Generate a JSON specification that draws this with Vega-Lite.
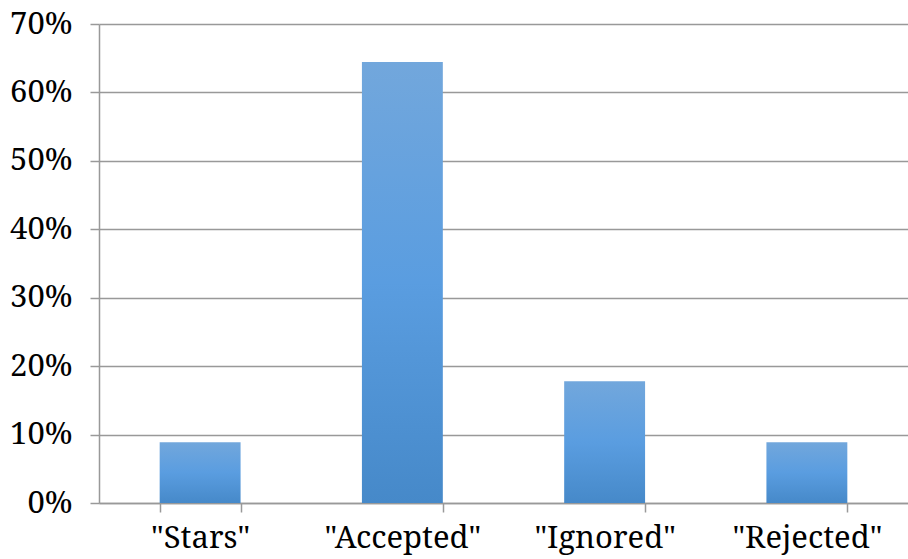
{
  "$schema": "https://vega.github.io/schema/vega-lite/v6.json",
  "autosize": "none",
  "width": 809,
  "height": 479,
  "padding": {"left": 99, "top": 24, "right": 0, "bottom": 56},
  "background": "white",
  "data": {
    "values": [
      {"category": "\"Stars\"", "share": 0.0889},
      {"category": "\"Accepted\"", "share": 0.6444},
      {"category": "\"Ignored\"", "share": 0.1778},
      {"category": "\"Rejected\"", "share": 0.0889}
    ]
  },
  "config": {
    "view": {"stroke": null},
    "font": "Noto Serif"
  },
  "mark": {
    "type": "bar",
    "color": {
      "gradient": "linear",
      "x1": 0, "y1": 0, "x2": 0, "y2": 1,
      "stops": [
        {"offset": 0, "color": "#72a7dc"},
        {"offset": 0.5, "color": "#5a9de0"},
        {"offset": 1, "color": "#4689c9"}
      ]
    }
  },
  "encoding": {
    "x": {
      "field": "category",
      "type": "nominal",
      "sort": null,
      "scale": {"paddingInner": 0.6, "paddingOuter": 0.3},
      "axis": {
        "title": null,
        "labelAngle": 0,
        "labelFont": "Noto Serif",
        "labelFontSize": 31,
        "labelLimit": 0,
        "labelColor": "#000000",
        "labelPadding": 11,
        "ticks": true,
        "tickBand": "extent",
        "tickSize": 9,
        "tickWidth": 1.5,
        "tickColor": "#999999",
        "domainColor": "#999999",
        "domainWidth": 1.5,
        "grid": false
      }
    },
    "y": {
      "field": "share",
      "type": "quantitative",
      "scale": {"domain": [0, 0.7], "nice": false},
      "axis": {
        "title": null,
        "format": ".0%",
        "values": [0, 0.1, 0.2, 0.3, 0.4, 0.5, 0.6, 0.7],
        "labelFont": "Noto Serif",
        "labelFontSize": 31,
        "labelColor": "#000000",
        "labelPadding": 18,
        "tickSize": 9,
        "tickWidth": 1.5,
        "tickColor": "#999999",
        "domainColor": "#999999",
        "domainWidth": 1.5,
        "grid": true,
        "gridColor": "#999999",
        "gridWidth": 1.5
      }
    }
  }
}
